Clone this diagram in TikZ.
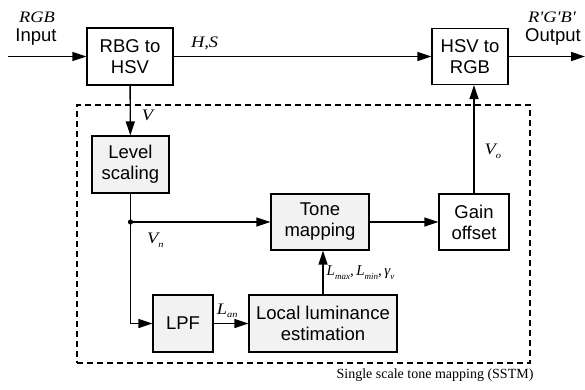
\documentclass[tikz,border=0pt]{standalone}
\usepackage{fontspec}
\setmainfont{Liberation Sans}
\newfontfamily\tms{Liberation Serif}
\newfontfamily\tmswide{Liberation Serif}[FakeStretch=1.15]
\newcommand\sbs[1]{\raisebox{-0.5ex}{\fontsize{9}{10}\selectfont #1}}
\usetikzlibrary{arrows.meta}
\definecolor{boxgray}{HTML}{F2F2F2}
\begin{document}
\begin{tikzpicture}[x=1pt,y=-1pt,>={Triangle[length=14pt,width=9pt]},font=\fontsize{18.5}{21}\selectfont,
box/.style={draw,line width=1.2pt,align=center,inner sep=0pt},
inbox/.style={box,fill=boxgray},
f/.style={->,line width=1.4pt},
lbl/.style={font=\fontsize{16}{18}\selectfont\tmswide\itshape,inner sep=0pt}]
\useasboundingbox (0,0) rectangle (585,389);
% SSTM frame
\node[draw,dashed,dash pattern=on 6pt off 4pt,line width=1.2pt,minimum width=453,minimum height=258,inner sep=0pt] (sstm) at (303.5,234) {};
\node[anchor=north east,font=\fontsize{14}{16}\selectfont\tms,inner sep=0pt] (sstmlbl) at ([xshift=3pt,yshift=-5pt]sstm.south east) {Single scale tone mapping (SSTM)};
% blocks
\node[box,minimum width=86,minimum height=57] (rbg) at (130,56.5) {RBG to\\HSV};
\node[box,minimum width=76,minimum height=56] (hsv) at (470,56.5) {HSV to\\RGB};
\node[inbox,minimum width=77,minimum height=57] (lev) at (130.5,164.5) {Level\\scaling};
\node[inbox,minimum width=98,minimum height=56] (tone) at (320,222) {Tone\\mapping};
\node[box,minimum width=70,minimum height=56] (gain) at (474,222) {Gain\\offset};
\node[inbox,minimum width=60,minimum height=57] (lpf) at (183,323.5) {LPF};
\node[inbox,minimum width=148,minimum height=57] (lle) at (323,323.5) {Local luminance\\estimation};
% in / out
\coordinate (in) at (8,56.5);
\coordinate (out) at (585,56.5);
\coordinate (jn) at (lev.south |- tone.west);
\node[lbl] (rgbin) at (37,17) {RGB};
\node[inner sep=0pt] (inlbl) at (36,37) {Input};
\node[lbl] (rgbout) at (552,17) {R'G'B'};
\node[inner sep=0pt] (outlbl) at (553,37) {Output};
% connectors
\draw[f] (in) -- (rbg);
\draw[f] (rbg) -- node[lbl,pos=0.065,anchor=south west,yshift=6pt]{H,S} (hsv);
\draw[f] (hsv) -- (out);
\draw[f] (rbg) -- node[lbl,pos=0.6,right=11pt]{V} (lev);
\draw[line width=1.4pt] (lev) -- (jn);
\fill (jn) circle (2.6pt);
\draw[f] (jn) |- node[lbl,pos=0.09,right=16pt]{V\sbs{n}} (lpf.west);
\draw[f] (jn) -- (tone);
\draw[f] (lpf) -- node[lbl,pos=0.39,above=5pt]{L\sbs{an}} (lle);
\draw[f] (lle) -- node[lbl,font=\fontsize{15}{17}\selectfont\tms\itshape,pos=0.5,right=3pt]{L\sbs{max},\,L\sbs{min},\,γ\sbs{v}} (lle.north |- tone.south);
\draw[f] (tone) -- (gain);
\draw[f] (gain) -- node[lbl,pos=0.39,right=10pt]{V\sbs{o}} (gain.north |- hsv.south);
\end{tikzpicture}
\end{document}
